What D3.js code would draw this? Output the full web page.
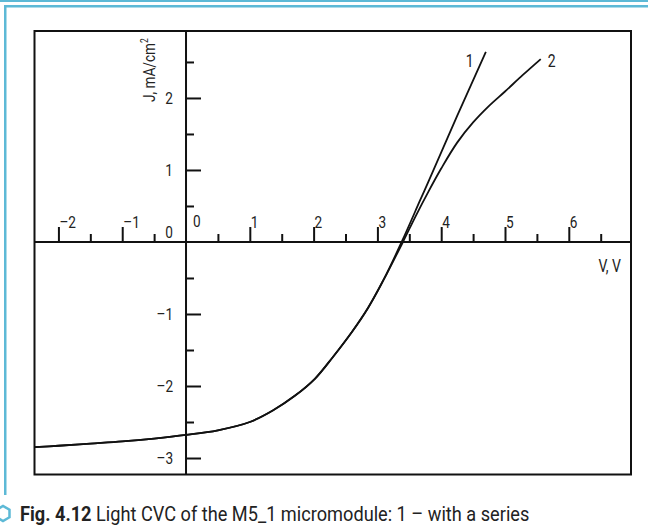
<!DOCTYPE html>
<html><head><meta charset="utf-8">
<script src="https://cdn.jsdelivr.net/npm/d3@7"></script>
<style>
body{margin:0;background:#fff;}
svg{display:block;}
.lbl{font-family:Roboto,"Noto Sans",sans-serif;font-weight:400;fill:#222;}
.cap{font-family:Roboto,"Noto Sans",sans-serif;fill:#222;}
</style></head>
<body>
<script>
// ---- data ----
const xMajorTicks = [-2, -1, 0, 1, 2, 3, 4, 5, 6];
const xMinorTicks = [-1.5, -0.5, 0.5, 1.5, 2.5, 3.5, 4.5, 5.5, 6.5];
const yMajorTicks = [-3, -2, -1, 0, 1, 2];
const yMinorTicks = [-2.5, -1.5, -0.5, 0.5, 1.5, 2.5];
const curveShared = [[-2.375,-2.85],[-2,-2.83],[-1.5,-2.80],[-1,-2.77],[-0.5,-2.73],[0,-2.68],[0.5,-2.615],[1,-2.50],[1.36,-2.34],[1.7,-2.14],[2.02,-1.90],[2.3,-1.60],[2.6,-1.25],[2.85,-0.92],[3.1,-0.52]];
const curve1Upper = [[3.38,0.0],[3.67,0.58],[3.81,0.86],[4.25,1.75],[4.70,2.64]];
const curve2Upper = [[3.40,0.0],[3.60,0.36],[3.80,0.70],[4.00,1.02],[4.25,1.38],[4.50,1.66],[4.75,1.89],[5.00,2.09],[5.28,2.32],[5.56,2.54]];
const seriesNames = ["1", "2"];
const xLabel = "V, V";
const yLabel = "J, mA/cm";
const captionBold = "Fig. 4.12";
const captionRest = " Light CVC of the M5_1 micromodule: 1 – with a series";

const W = 648, H = 527;
const svg = d3.select("body").append("svg").attr("width", W).attr("height", H);
const blue = "#5db9d6";
const SX = 0.8; // horizontal condensing of labels

// decorative frame
svg.append("rect").attr("x",0).attr("y",0).attr("width",W).attr("height",2).attr("fill",blue);
svg.append("rect").attr("x",4).attr("y",5).attr("width",W-4).attr("height",2.5).attr("fill",blue);
svg.append("rect").attr("x",4).attr("y",5).attr("width",2.5).attr("height",490).attr("fill",blue);

// scales
const x = d3.scaleLinear().domain([-2.375, 6.975]).range([34.5, 631]);
const y = d3.scaleLinear().domain([2.93, -3.229]).range([31, 474.5]);

// box
svg.append("rect").attr("x",x.range()[0]).attr("y",y.range()[0])
  .attr("width",x.range()[1]-x.range()[0]).attr("height",y.range()[1]-y.range()[0])
  .attr("fill","none").attr("stroke","#111").attr("stroke-width",2);

function styleAxis(g){ g.select(".domain").remove(); g.selectAll("line").attr("stroke","#111").attr("stroke-width",2); g.selectAll("text").remove(); }

// x axis (horizontal line at J=0)
svg.append("line").attr("x1",x.range()[0]).attr("x2",x.range()[1]).attr("y1",y(0)).attr("y2",y(0)).attr("stroke","#111").attr("stroke-width",2);
svg.append("g").attr("transform",`translate(0,${y(0)})`).call(d3.axisTop(x).tickValues(xMajorTicks.filter(d=>d!==0)).tickSize(15)).call(styleAxis);
svg.append("g").attr("transform",`translate(0,${y(0)})`).call(d3.axisTop(x).tickValues(xMinorTicks).tickSize(8)).call(styleAxis);

// y axis (vertical line at V=0)
svg.append("line").attr("x1",x(0)).attr("x2",x(0)).attr("y1",y.range()[0]).attr("y2",y.range()[1]).attr("stroke","#111").attr("stroke-width",2);
svg.append("g").attr("transform",`translate(${x(0)},0)`).call(d3.axisRight(y).tickValues(yMajorTicks.filter(d=>d!==0)).tickSize(15)).call(styleAxis);
svg.append("g").attr("transform",`translate(${x(0)},0)`).call(d3.axisRight(y).tickValues(yMinorTicks).tickSize(8)).call(styleAxis);

const fmt = d => d < 0 ? "\u2013" + Math.abs(d) : String(d);

function label(px, py, txt, anchor, size){
  svg.append("text").attr("class","lbl")
    .attr("transform",`translate(${px},${py}) scale(${SX},1)`)
    .attr("text-anchor",anchor||"start").attr("font-size",size||17).text(txt);
}

// x tick labels
xMajorTicks.forEach(d => label(d===0 ? x(d)+7 : x(d)+1, d===0 ? y(0)-15 : y(0)-14, fmt(d)));
// y tick labels
yMajorTicks.forEach(d => label(x(0)-13, d===0 ? y(0)-4 : y(d)+6, fmt(d), "end"));

// axis titles
label(621, 272, xLabel, "end", 17.5);
const yt = svg.append("text").attr("class","lbl").attr("transform",`translate(155,102) rotate(-90) scale(${SX},1)`).attr("font-size",17);
yt.append("tspan").text(yLabel);
yt.append("tspan").attr("font-size",10.5).attr("dy",-7).text("2");

// curves
const line = d3.line().x(d=>x(d[0])).y(d=>y(d[1])).curve(d3.curveCatmullRom.alpha(0.5));
const curves = [curveShared.concat(curve1Upper), curveShared.concat(curve2Upper)];
svg.append("g").selectAll("path").data(curves).join("path")
  .attr("d", line).attr("fill","none").attr("stroke","#111").attr("stroke-width",1.8);

// series labels
const ends = [curve1Upper[curve1Upper.length-1], curve2Upper[curve2Upper.length-1]];
label(x(ends[0][0])-20, y(ends[0][1])+15, seriesNames[0], "start", 17.5);
label(x(ends[1][0])+7, y(ends[1][1])+8, seriesNames[1], "start", 17.5);

// caption
const hex = d3.range(6).map(i => { const a = Math.PI/3*i + Math.PI/6; return [3+7.5*Math.cos(a), 513.5+7.5*Math.sin(a)]; });
svg.append("polygon").attr("points", hex.map(p=>p.join(",")).join(" ")).attr("fill","none").attr("stroke",blue).attr("stroke-width",2.5);
const cap = svg.append("text").attr("class","cap").attr("x",0).attr("y",0).attr("font-size",21);
cap.append("tspan").attr("font-weight","bold").text(captionBold);
cap.append("tspan").text(captionRest);
const cw = cap.node().getComputedTextLength();
cap.attr("transform",`translate(20,521) scale(${510/cw},1)`);
</script>
</body></html>
